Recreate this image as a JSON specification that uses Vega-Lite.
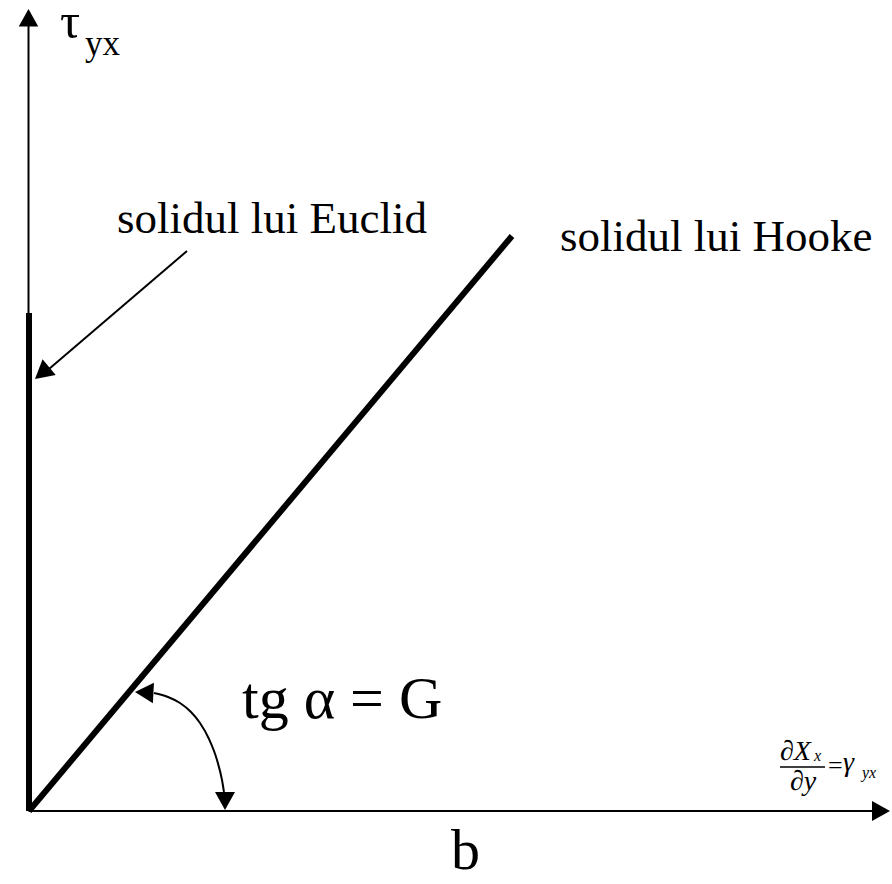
{
  "$schema": "https://vega.github.io/schema/vega-lite/v6.json",
  "width": 892,
  "height": 884,
  "padding": 0,
  "autosize": {"type": "none"},
  "background": "white",
  "config": {"view": {"stroke": null}, "text": {"font": "Liberation Serif", "color": "black", "align": "left", "baseline": "alphabetic"}},
  "encoding": {
    "x": {"field": "x", "type": "quantitative", "axis": null,
          "scale": {"domain": [-28.5, 863.5], "nice": false, "zero": false}},
    "y": {"field": "y", "type": "quantitative", "axis": null,
          "scale": {"domain": [-73, 811], "nice": false, "zero": false}}
  },
  "layer": [
    {
      "description": "coordinate axes (shear strain and shear stress)",
      "data": {"values": [
        {"x": 0, "y": 0, "x2": 0, "y2": 788},
        {"x": 0, "y": 0, "x2": 846, "y2": 0}
      ]},
      "mark": {"type": "rule", "color": "black", "strokeWidth": 2},
      "encoding": {"x2": {"field": "x2"}, "y2": {"field": "y2"}}
    },
    {
      "description": "Euclid rigid body and Hooke elastic body",
      "data": {"values": [
        {"body": "Euclid", "x": 0.5, "y": 0, "x2": 0.5, "y2": 498},
        {"body": "Hooke", "x": 0.5, "y": 0, "x2": 483.5, "y2": 575}
      ]},
      "mark": {"type": "rule", "color": "black", "strokeWidth": 6, "strokeCap": "butt"},
      "encoding": {"x2": {"field": "x2"}, "y2": {"field": "y2"}}
    },
    {
      "description": "pointer from the Euclid label",
      "data": {"values": [{"x": 158.5, "y": 560, "x2": 20.5, "y2": 442}]},
      "mark": {"type": "rule", "color": "black", "strokeWidth": 2},
      "encoding": {"x2": {"field": "x2"}, "y2": {"field": "y2"}}
    },
    {
      "description": "slope angle arc",
      "data": {"values": [
        {"x": 125.5, "y": 118},
        {"x": 139.5, "y": 114},
        {"x": 151.5, "y": 108},
        {"x": 162.5, "y": 99},
        {"x": 171.5, "y": 88},
        {"x": 180.5, "y": 72},
        {"x": 188.5, "y": 51},
        {"x": 193.5, "y": 31},
        {"x": 195.5, "y": 19}
      ]},
      "mark": {"type": "line", "color": "black", "strokeWidth": 2, "interpolate": "monotone"}
    },
    {
      "data": {"values": [{"x": 0, "y": 802}]},
      "mark": {"type": "point", "shape": "M0,0L-1,1.8L1,1.8Z", "size": 380, "angle": 0,
               "filled": true, "color": "black", "opacity": 1, "strokeWidth": 0}
    },
    {
      "data": {"values": [{"x": 861.5, "y": 0}]},
      "mark": {"type": "point", "shape": "M0,0L-1,1.8L1,1.8Z", "size": 400, "angle": 90,
               "filled": true, "color": "black", "opacity": 1, "strokeWidth": 0}
    },
    {
      "data": {"values": [{"x": 6.5, "y": 432}]},
      "mark": {"type": "point", "shape": "M0,0L-1,1.8L1,1.8Z", "size": 420, "angle": 230,
               "filled": true, "color": "black", "opacity": 1, "strokeWidth": 0}
    },
    {
      "data": {"values": [{"x": 106.5, "y": 119}]},
      "mark": {"type": "point", "shape": "M0,0L-1,1.8L1,1.8Z", "size": 420, "angle": 273,
               "filled": true, "color": "black", "opacity": 1, "strokeWidth": 0}
    },
    {
      "data": {"values": [{"x": 196.5, "y": 1}]},
      "mark": {"type": "point", "shape": "M0,0L-1,1.8L1,1.8Z", "size": 400, "angle": 180,
               "filled": true, "color": "black", "opacity": 1, "strokeWidth": 0}
    },
    {
      "description": "fraction bar of the strain expression",
      "data": {"values": [{"x": 751.5, "y": 44, "x2": 796.5}]},
      "mark": {"type": "rule", "color": "black", "strokeWidth": 1.5},
      "encoding": {"x2": {"field": "x2"}}
    },
    {
      "data": {"values": [{"x": 31.5, "y": 773, "label": "τ"}]},
      "mark": {"type": "text", "fontSize": 50},
      "encoding": {"text": {"field": "label"}}
    },
    {
      "data": {"values": [{"x": 56.5, "y": 756, "label": "yx"}]},
      "mark": {"type": "text", "fontSize": 35},
      "encoding": {"text": {"field": "label"}}
    },
    {
      "data": {"values": [{"x": 398.5, "y": 578, "label": "solidul lui Euclid"}]},
      "mark": {"type": "text", "fontSize": 45, "align": "right"},
      "encoding": {"text": {"field": "label"}}
    },
    {
      "data": {"values": [{"x": 531.5, "y": 560, "label": "solidul lui Hooke"}]},
      "mark": {"type": "text", "fontSize": 45},
      "encoding": {"text": {"field": "label"}}
    },
    {
      "data": {"values": [{"x": 213.5, "y": 93, "label": "tg α = G"}]},
      "mark": {"type": "text", "fontSize": 60},
      "encoding": {"text": {"field": "label"}}
    },
    {
      "data": {"values": [{"x": 422.5, "y": -58, "label": "b"}]},
      "mark": {"type": "text", "fontSize": 58},
      "encoding": {"text": {"field": "label"}}
    },
    {
      "description": "strain expression, main-size italic parts",
      "data": {"values": [
        {"x": 751.5, "y": 51, "label": "∂X"},
        {"x": 761.5, "y": 21, "label": "∂y"},
        {"x": 814.5, "y": 40, "label": "γ"}
      ]},
      "mark": {"type": "text", "fontSize": 28, "fontStyle": "italic"},
      "encoding": {"text": {"field": "label"}}
    },
    {
      "data": {"values": [{"x": 799.5, "y": 37, "label": "="}]},
      "mark": {"type": "text", "fontSize": 26},
      "encoding": {"text": {"field": "label"}}
    },
    {
      "description": "strain expression subscripts",
      "data": {"values": [
        {"x": 785.5, "y": 50, "label": "x"},
        {"x": 833.5, "y": 33, "label": "yx"}
      ]},
      "mark": {"type": "text", "fontSize": 16, "fontStyle": "italic"},
      "encoding": {"text": {"field": "label"}}
    }
  ]
}
